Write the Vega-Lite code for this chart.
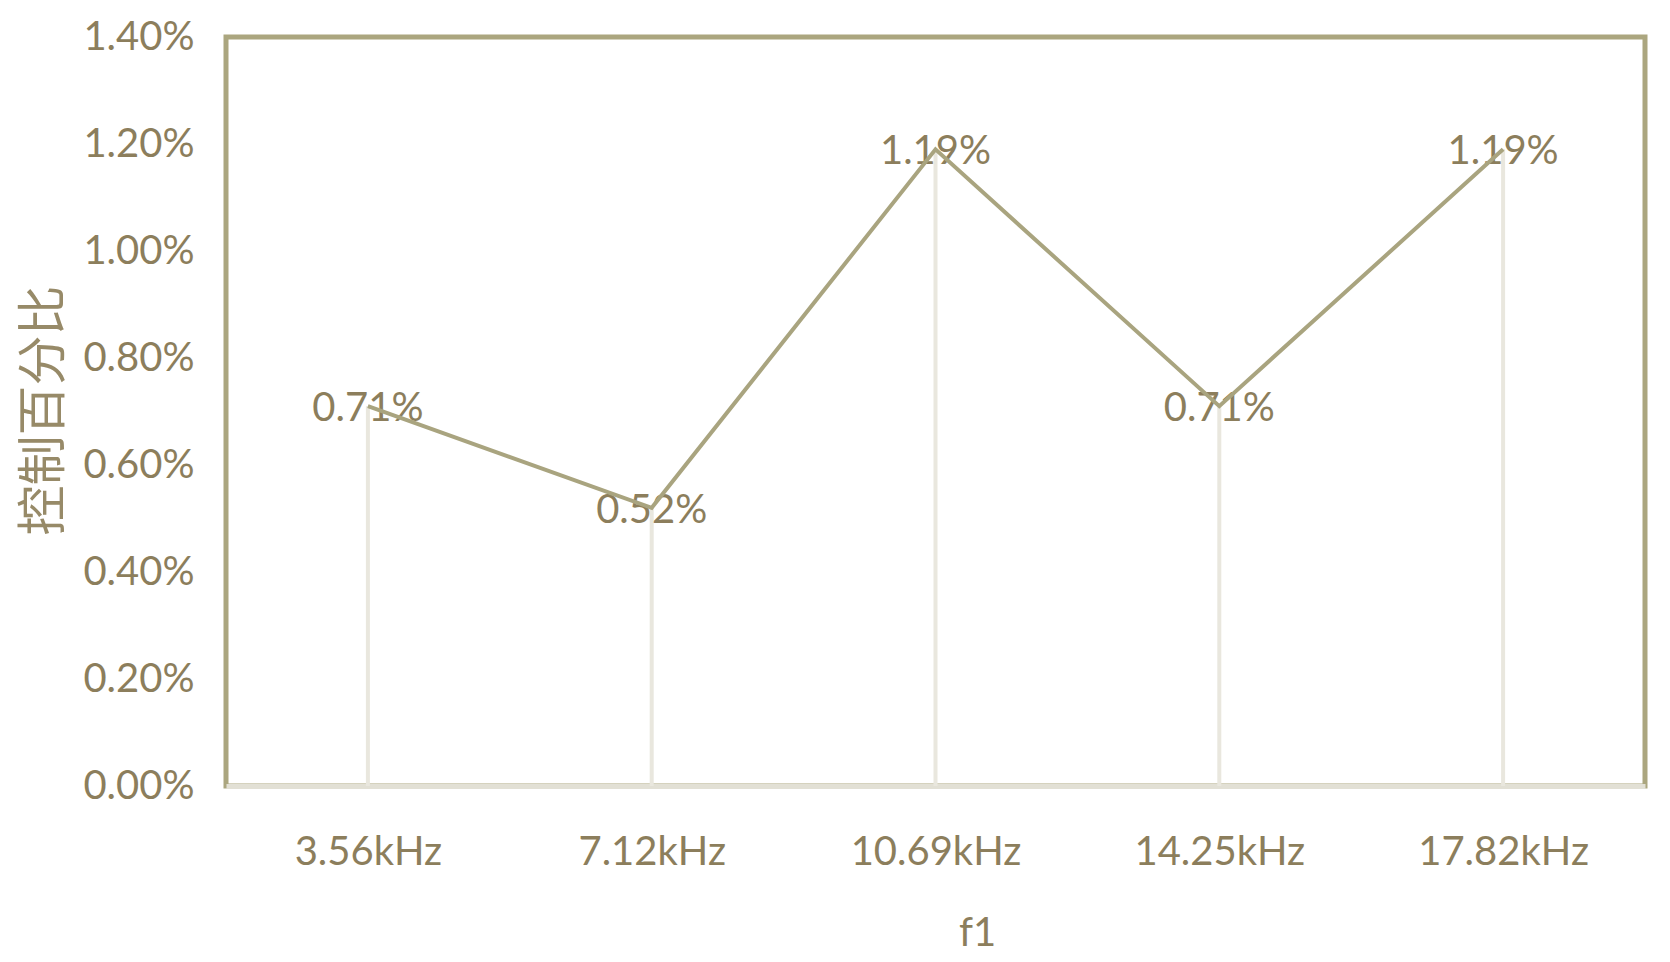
{
  "$schema": "https://vega.github.io/schema/vega-lite/v6.json",
  "width": 1419,
  "height": 749,
  "autosize": "none",
  "padding": {"left": 226, "top": 37, "right": 25, "bottom": 176},
  "background": "white",
  "config": {
    "view": {"stroke": "#ABA67F", "strokeWidth": 5},
    "font": "Lato"
  },
  "data": {
    "values": [
      {"f1": "3.56kHz", "pct": 0.0071},
      {"f1": "7.12kHz", "pct": 0.0052},
      {"f1": "10.69kHz", "pct": 0.0119},
      {"f1": "14.25kHz", "pct": 0.0071},
      {"f1": "17.82kHz", "pct": 0.0119}
    ]
  },
  "encoding": {
    "x": {
      "field": "f1",
      "type": "nominal",
      "sort": null,
      "scale": {"type": "point", "padding": 0.5},
      "axis": {
        "title": "f1",
        "labelAngle": 0,
        "ticks": false,
        "grid": false,
        "domainColor": "#E2E0D5",
        "domainWidth": 5,
        "labelFont": "Lato",
        "labelFontSize": 40,
        "labelColor": "#8C7E5C",
        "labelPadding": 46,
        "titleFont": "Lato",
        "titleFontSize": 40,
        "titleFontWeight": "normal",
        "titleColor": "#8C7E5C",
        "titleX": 751,
        "titleY": 159,
        "titleBaseline": "alphabetic",
        "titleAlign": "center"
      }
    },
    "y": {
      "field": "pct",
      "type": "quantitative",
      "scale": {"domain": [0, 0.014], "nice": false},
      "axis": {
        "title": "控制百分比",
        "values": [0, 0.002, 0.004, 0.006, 0.008, 0.01, 0.012, 0.014],
        "format": ".2%",
        "domain": false,
        "ticks": false,
        "grid": false,
        "labelFont": "Lato",
        "labelFontSize": 40,
        "labelColor": "#8C7E5C",
        "labelPadding": 32,
        "titleFont": "Noto Sans CJK SC",
        "titleFontSize": 50,
        "titleFontWeight": "normal",
        "titleColor": "#978A68",
        "titleX": -182,
        "titleY": 373,
        "titleAngle": -90,
        "titleBaseline": "middle",
        "titleAlign": "center"
      }
    }
  },
  "layer": [
    {
      "mark": {"type": "rule", "color": "#E9E7DE", "strokeWidth": 4},
      "encoding": {"y2": {"datum": 0}}
    },
    {
      "mark": {"type": "text", "fontSize": 40, "font": "Lato", "color": "#8C7E5C", "align": "center", "baseline": "middle", "dy": 3},
      "encoding": {"text": {"field": "pct", "type": "quantitative", "format": ".2%"}}
    },
    {
      "mark": {"type": "line", "color": "#A9A47F", "strokeWidth": 4}
    }
  ]
}
